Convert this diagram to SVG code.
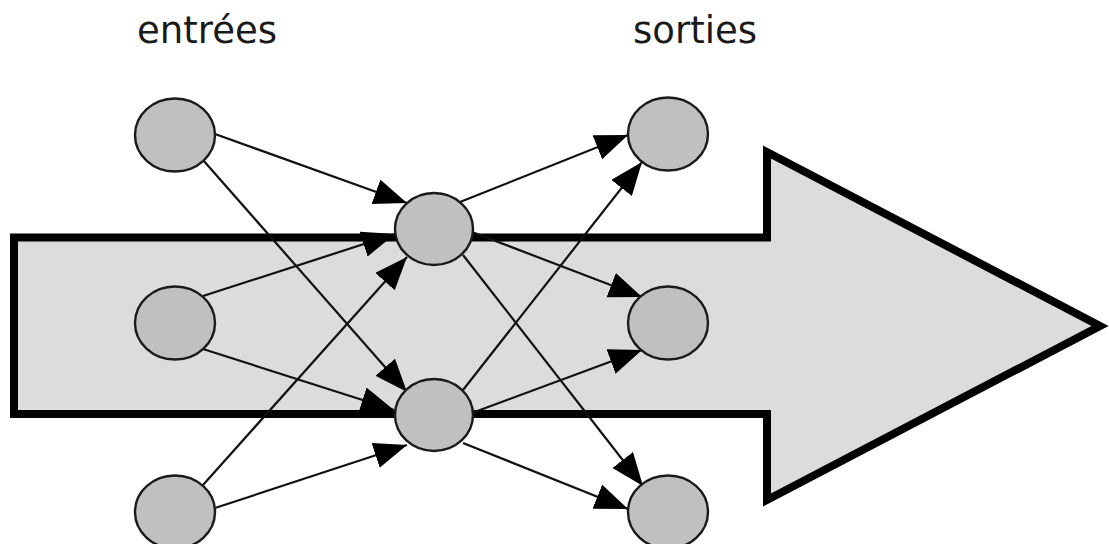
<svg xmlns="http://www.w3.org/2000/svg" width="1109" height="544" viewBox="0 0 1109 544">
  <defs>
    <marker id="head" markerUnits="userSpaceOnUse" markerWidth="36" markerHeight="30" refX="33" refY="13" orient="auto">
      <path d="M0,0 L33,13 L0,26 z" fill="#000"/>
    </marker>
    <style>
      .label { font-family: "DejaVu Sans", Verdana, sans-serif; font-size: 37px; fill: #1a1a1a; text-anchor: middle; }
      .flow { fill: #dcdcdc; stroke: #000; stroke-width: 8; stroke-linejoin: miter; }
      .edge { stroke: #111; stroke-width: 2.2; fill: none; marker-end: url(#head); }
      .neuron { fill: #c0c0c0; stroke: #1a1a1a; stroke-width: 2.4; }
    </style>
  </defs>

  <rect width="1109" height="544" fill="#fff"/>

  <!-- column labels -->
  <text class="label" x="207" y="43">entrées</text>
  <text class="label" x="695" y="43">sorties</text>

  <!-- wide flow arrow behind the network -->
  <polygon class="flow" points="14,237.5 767,237.5 767,152 1100,326 767,500 767,414 14,414"/>

  <!-- connections -->
  <g id="connectors">
    <line class="edge" x1="215" y1="134" x2="407" y2="203"/>
    <line class="edge" x1="203" y1="160" x2="407" y2="392"/>
    <line class="edge" x1="203" y1="296" x2="395" y2="234"/>
    <line class="edge" x1="203" y1="349" x2="394" y2="410"/>
    <line class="edge" x1="203" y1="485" x2="407" y2="257"/>
    <line class="edge" x1="215" y1="508" x2="407" y2="445"/>
    <line class="edge" x1="460" y1="202" x2="628" y2="135"/>
    <line class="edge" x1="472" y1="232" x2="642" y2="297"/>
    <line class="edge" x1="463" y1="255" x2="643" y2="486"/>
    <line class="edge" x1="463" y1="390" x2="642" y2="162"/>
    <line class="edge" x1="472" y1="413" x2="642" y2="350"/>
    <line class="edge" x1="463" y1="443" x2="628" y2="509"/>
  </g>

  <!-- input layer -->
  <g id="in1"><ellipse class="neuron" cx="175" cy="135" rx="40" ry="36.5"/></g>
  <g id="in2"><ellipse class="neuron" cx="175" cy="323" rx="40" ry="36.5"/></g>
  <g id="in3"><ellipse class="neuron" cx="175" cy="512" rx="40" ry="36.5"/></g>

  <!-- hidden layer -->
  <g id="hid1"><ellipse class="neuron" cx="434" cy="229" rx="39" ry="36"/></g>
  <g id="hid2"><ellipse class="neuron" cx="434" cy="415" rx="39" ry="36"/></g>

  <!-- output layer -->
  <g id="out1"><ellipse class="neuron" cx="668" cy="134" rx="40" ry="36.5"/></g>
  <g id="out2"><ellipse class="neuron" cx="668" cy="323" rx="40" ry="36.5"/></g>
  <g id="out3"><ellipse class="neuron" cx="668" cy="512" rx="40" ry="36.5"/></g>
</svg>
